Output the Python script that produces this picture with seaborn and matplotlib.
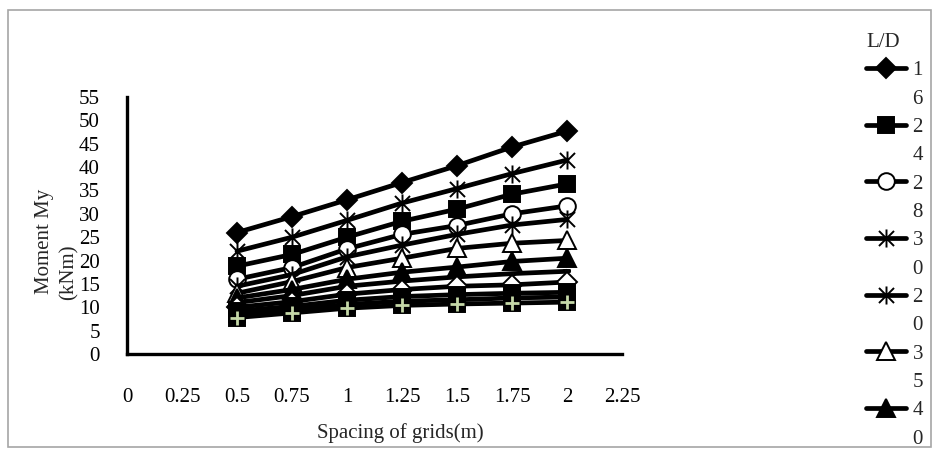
import matplotlib
matplotlib.use("Agg")
import matplotlib.pyplot as plt
import seaborn as sns
from matplotlib.lines import Line2D
from matplotlib.patches import Rectangle
from matplotlib.path import Path

# grid spacing (m)
spacing = [0.5, 0.75, 1.0, 1.25, 1.5, 1.75, 2.0]

# moment My (kNm) per L/D series
my_ld16 = [26.0, 29.4, 33.0, 36.7, 40.3, 44.3, 47.7]
my_ld24 = [18.8, 21.3, 25.0, 28.4, 31.0, 34.2, 36.4]
my_ld28 = [16.0, 18.5, 22.5, 25.6, 27.5, 30.0, 31.7]
my_ld30 = [14.5, 17.0, 20.8, 23.3, 25.6, 27.6, 28.8]
my_ld20 = [22.0, 25.0, 28.6, 32.3, 35.4, 38.6, 41.5]
my_ld35 = [13.0, 15.5, 18.5, 20.5, 22.6, 23.7, 24.3]
my_ld40 = [12.0, 13.8, 16.0, 17.5, 18.6, 19.8, 20.5]
# series below these are not visible in the (clipped) legend
my_s8 = [11.0, 12.5, 14.5, 15.6, 16.5, 17.2, 17.7]
my_s9 = [10.0, 11.2, 12.8, 13.8, 14.5, 14.8, 15.4]
my_s10 = [9.2, 10.2, 11.5, 12.3, 12.7, 13.0, 13.2]
my_s11 = [8.5, 9.5, 10.6, 11.3, 11.6, 12.0, 12.2]
my_s12 = [7.8, 8.8, 9.8, 10.4, 10.7, 10.9, 11.1]

legend_labels = ["16", "24", "28", "30", "20", "35", "40"]
x_ticks = [0, 0.25, 0.5, 0.75, 1, 1.25, 1.5, 1.75, 2, 2.25]
y_ticks = list(range(0, 56, 5))

sns.set_theme(style="white")
plt.rcParams["font.family"] = ["Liberation Serif", "DejaVu Serif"]
plt.rcParams["font.size"] = 15
FS = 15

# excel-like marker shapes
star = Path(
    [(-1, -1), (1, 1), (-1, 1), (1, -1), (0, -1.2), (0, 1.2)],
    [Path.MOVETO, Path.LINETO, Path.MOVETO, Path.LINETO, Path.MOVETO, Path.LINETO],
)
dash = Path(
    [(-1, -0.4), (1, -0.4), (1, 0.4), (-1, 0.4), (-1, -0.4)],
    [Path.MOVETO, Path.LINETO, Path.LINETO, Path.LINETO, Path.CLOSEPOLY],
)

series = [
    (my_ld16, dict(marker="D", markersize=10, markerfacecolor="black")),
    (my_ld24, dict(marker="s", markersize=11, markerfacecolor="black")),
    (my_ld28, dict(marker="o", markersize=12, markerfacecolor="white")),
    (my_ld30, dict(marker=star, markersize=13, markerfacecolor="none")),
    (my_ld20, dict(marker=star, markersize=13, markerfacecolor="none")),
    (my_ld35, dict(marker="^", markersize=13, markerfacecolor="white")),
    (my_ld40, dict(marker="^", markersize=13, markerfacecolor="black")),
    (my_s8, dict(marker=dash, markersize=5, markerfacecolor="white")),
    (my_s9, dict(marker="D", markersize=10, markerfacecolor="white")),
    (my_s10, dict(marker="s", markersize=11, markerfacecolor="black")),
    (my_s11, dict(marker="s", markersize=11, markerfacecolor="black")),
    (my_s12, dict(marker="s", markersize=12, markerfacecolor="black")),
]

fig = plt.figure(figsize=(9.38, 4.5), dpi=100)
ax = fig.add_axes([127 / 938, 96 / 450, 495 / 938, 257 / 450])

for values, style in series:
    sns.lineplot(
        x=spacing, y=values, ax=ax, color="black", linewidth=3.4,
        markeredgecolor="black", markeredgewidth=1.4, **style,
    )
# pale cross drawn over the last series' squares
sns.scatterplot(
    x=spacing, y=my_s12, ax=ax, marker="+", color="#c5d8a8",
    s=100, linewidth=2, zorder=5,
)

ax.set_xlim(0, 2.25)
ax.set_ylim(0, 55)
ax.set_xticks(x_ticks)
ax.set_xticklabels([f"{v:g}" for v in x_ticks])
ax.set_yticks(y_ticks)
sns.despine(ax=ax)
for side in ("left", "bottom"):
    ax.spines[side].set_linewidth(2.4)
    ax.spines[side].set_color("black")
ax.tick_params(axis="both", direction="out", length=4.5, width=2.4,
               color="black", labelsize=FS, labelcolor="black")
ax.tick_params(axis="x", pad=20)
ax.tick_params(axis="y", pad=15)
ax.set_xlabel("Spacing of grids(m)", fontsize=FS, va="center")
ax.xaxis.set_label_coords((400 - 127) / 495, (354 - 433) / 257)

fig.text(44 / 938, 1 - 241 / 450, "Moment My", rotation=90,
         ha="center", va="center", fontsize=FS)
fig.text(69 / 938, 1 - 272 / 450, "(kNm)", rotation=90,
         ha="center", va="center", fontsize=FS)

# legend: each two-digit label wraps onto a second row
lines = ax.get_lines()[:len(legend_labels)]
blank = Line2D([], [], linestyle="none")
handles, labels = [], []
for line, lab in zip(lines, legend_labels):
    handles += [line, blank]
    labels += [lab[0], lab[1]]
leg = fig.legend(
    handles, labels, title="L/D", loc="upper left", alignment="left",
    bbox_to_anchor=(866 / 938, 1 - 33 / 450), frameon=False,
    fontsize=FS, title_fontsize=FS, handlelength=1.9, handletextpad=0.33,
    labelspacing=0.42, borderpad=0, borderaxespad=0,
)

fig.add_artist(Rectangle((8 / 938, 3 / 450), 923 / 938, 437 / 450,
                         transform=fig.transFigure, fill=False,
                         edgecolor="#a6a6a6", linewidth=1.2))

fig.savefig("out.png", dpi=100)
